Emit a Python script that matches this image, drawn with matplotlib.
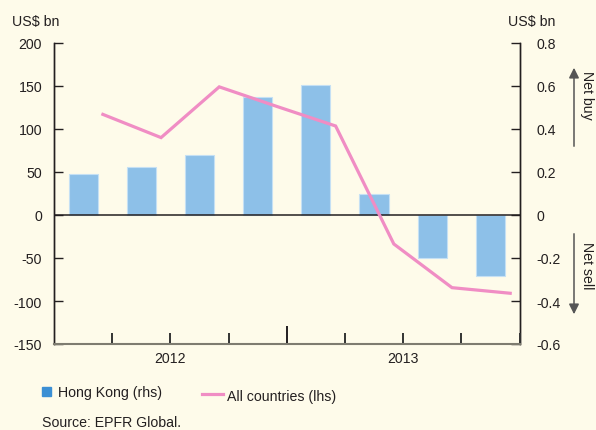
import matplotlib
matplotlib.use("Agg")
import matplotlib.pyplot as plt
from matplotlib.lines import Line2D
from matplotlib.patches import Rectangle, FancyArrowPatch

plt.rcParams['font.family'] = ['Liberation Sans', 'DejaVu Sans']

# Data (quarterly)
quarters = ["2012Q1", "2012Q2", "2012Q3", "2012Q4", "2013Q1", "2013Q2", "2013Q3", "2013Q4"]
hong_kong_rhs = [0.19, 0.223, 0.28, 0.547, 0.603, 0.099, -0.20, -0.282]
all_countries_lhs = [117, 90, 149, 126, 103.5, -33.7, -84.5, -91]
years = ["2012", "2013"]
lhs_ticks = [-150, -100, -50, 0, 50, 100, 150, 200]
rhs_ticks = [-0.6, -0.4, -0.2, 0, 0.2, 0.4, 0.6, 0.8]
rhs_labels = ["-0.6", "-0.4", "-0.2", "0", "0.2", "0.4", "0.6", "0.8"]

BG = "#FEFBEA"
BAR = "#8DC0E8"
LEG_BAR = "#3B8FD4"
PINK = "#F08DC4"
TXT = "#231F20"
FS = 10.2

fig = plt.figure(figsize=(5.96, 4.31), dpi=100, facecolor=BG)
ax = fig.add_axes([54/596, 1-345/431, (519.5-54)/596, (345-44)/431])
ax2 = ax.twinx()
ax.set_zorder(ax2.get_zorder() + 1)
ax.patch.set_visible(False)

n = len(quarters)
bar_x = [i + 0.5 for i in range(n)]
line_x = [i + 0.84 for i in range(n)]

ax2.bar(bar_x, hong_kong_rhs, width=0.5, color=BAR, edgecolor="#C5E0F4", linewidth=0.8)
ax.plot(line_x, all_countries_lhs, color=PINK, linewidth=2.3, solid_joinstyle='miter')
ax.axhline(0, color=TXT, linewidth=1.1, zorder=1)

ax.set_xlim(0, n)
ax.set_ylim(-150, 200)
ax2.set_ylim(-0.6, 0.8)

ax.set_yticks(lhs_ticks)
ax.set_yticklabels([str(t) for t in lhs_ticks])
ax2.set_yticks(rhs_ticks)
ax2.set_yticklabels(rhs_labels)

for a in (ax, ax2):
    a.spines['top'].set_visible(False)
for sp in ['left', 'right']:
    for a in (ax, ax2):
        a.spines[sp].set_color(TXT)
        a.spines[sp].set_linewidth(1.0)
ax.spines['bottom'].set_color("#7E7C70")
ax.spines['bottom'].set_linewidth(1.5)
ax2.spines['bottom'].set_visible(False)

ax.tick_params(axis='y', direction='in', length=6.5, width=1, color=TXT,
               labelsize=FS, labelcolor=TXT, pad=8.6, right=False)
ax2.tick_params(axis='y', direction='in', length=6.5, width=1, color=TXT,
                labelsize=FS, labelcolor=TXT, pad=12)

# x ticks: inward marks at quarter boundaries, longer at the year boundary
ax.set_xticks([])
xt = ax.get_xaxis_transform()
quarter_bounds = [1, 2, 3, 5, 6, 7, 8]
year_bounds = [4]
ax.vlines(quarter_bounds, 0.002, 11/301, transform=xt, colors="#333333",
          linewidth=1.4, zorder=6, clip_on=False)
ax.vlines(year_bounds, 0.002, 18/301, transform=xt, colors=TXT,
          linewidth=1.4, zorder=6, clip_on=False)

# year labels centred under the mid-year tick (placed as figure text)
for i, y in enumerate(years):
    xd = 2 + 4*i
    xf = fig.transFigure.inverted().transform(ax.transData.transform((xd, 0)))[0]
    fig.text(xf, 1-359/431, y, ha='center', va='center', fontsize=FS, color=TXT)

# Unit labels
fig.text(36/596, 1-22/431, "US$ bn", ha='center', va='center', fontsize=FS, color=TXT)
fig.text(532/596, 1-22/431, "US$ bn", ha='center', va='center', fontsize=FS, color=TXT)

# Net buy / Net sell arrows
for (y0, y1) in [(150, 66), (232, 318)]:
    fig.patches.append(FancyArrowPatch(
        (574/596, 1-y0/431), (574/596, 1-y1/431), transform=fig.transFigure,
        arrowstyle='-|>,head_length=4,head_width=2', color="#555", linewidth=1.1,
        mutation_scale=1.5))
fig.text(587/596, 1-95/431, "Net buy", rotation=-90, ha='center', va='center',
         fontsize=FS, color=TXT)
fig.text(587/596, 1-266/431, "Net sell", rotation=-90, ha='center', va='center',
         fontsize=FS, color=TXT)

# Legend (manual)
fig.patches.append(Rectangle((42/596, 1-397/431), 9/596, 9/431,
                   transform=fig.transFigure, color=LEG_BAR))
fig.text(58/596, 1-393/431, "Hong Kong (rhs)", ha='left', va='center', fontsize=FS, color=TXT)
fig.add_artist(Line2D([202/596, 223/596], [1-395/431, 1-395/431],
               transform=fig.transFigure, color=PINK, linewidth=2.3))
fig.text(227/596, 1-397/431, "All countries (lhs)", ha='left', va='center', fontsize=FS, color=TXT)

fig.text(42/596, 1-423/431, "Source: EPFR Global.", ha='left', va='center', fontsize=FS, color=TXT)

fig.savefig("out.png", dpi=100, facecolor=BG)
